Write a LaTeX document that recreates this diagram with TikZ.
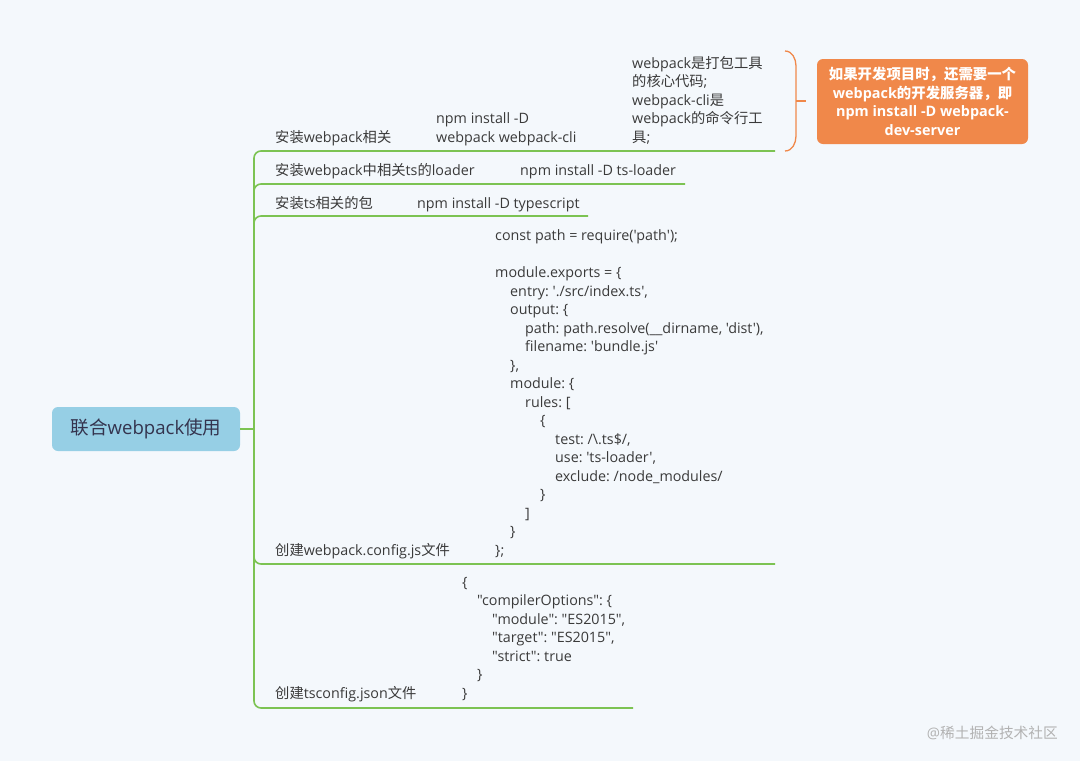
\documentclass[tikz,border=0pt]{standalone}
\usepackage{fontspec}
\setmainfont[Ligatures=TeXOff]{Open Sans}
\newfontfamily\cjk{Noto Sans CJK SC}
\newcommand{\zh}[1]{{\cjk #1}}
\usetikzlibrary{positioning}
\frenchspacing

\definecolor{bgcol}{HTML}{F4F8FC}
\definecolor{linecol}{HTML}{7CC352}
\definecolor{rootcol}{HTML}{96CFE5}
\definecolor{notecol}{HTML}{F0884A}
\definecolor{txtcol}{HTML}{3A3A3A}

\begin{document}
\begin{tikzpicture}[x=1pt,y=-1pt,
	every node/.style={font=\fontsize{14.3}{18.5}\selectfont, text=txtcol, inner sep=0pt},
	topic/.style={anchor=base west},
	code/.style={anchor=base west, align=left},
	branch/.style={draw=linecol, line width=1.6pt, rounded corners=7pt}]
	\fill[bgcol] (0,0) rectangle (1080,761);
	\useasboundingbox (0,0) rectangle (1080,761);
	% root
	\node[fill=rootcol, rounded corners=6pt, minimum width=188pt, minimum height=44pt,
		font=\fontsize{18.6}{22}\selectfont, text=txtcol!90!blue] (root) at (146,429) {\zh{联合}webpack\zh{使用}};
	\coordinate (trunk) at (254,429);
	\draw[branch] (root.east) -- (trunk);
	% branch ends
	\coordinate (e1) at (775,151);
	\coordinate (e2) at (685,184);
	\coordinate (e3) at (588,216);
	\coordinate (e4) at (775,564);
	\coordinate (e5) at (633,708);
	\foreach \e in {e1,e2,e3,e4,e5}
		\draw[branch] (trunk) |- (\e);
	% branch 1
	\node[topic] (t1) at (275,142) {\zh{安装}webpack\zh{相关}};
	\node[code] (c1) at (436,142) {npm install -D\\webpack webpack-cli};
	\node[code] (d1) at (632,142) {webpack\zh{是打包工具}\\\zh{的核心代码};\\webpack-cli\zh{是}\\webpack\zh{的命令行工}\\\zh{具};};
	\draw[notecol, line width=1.3pt] (785,51) to[out=0,in=90] (796,66) -- (796,136)
		to[out=-90,in=0] (785,151);
	\coordinate (tip) at (796,101);
	\node[fill=notecol, rounded corners=6pt, minimum width=211pt, minimum height=85pt,
		align=center, text=white, font=\fontsize{14.4}{18.5}\selectfont\bfseries] (note) at (922.5,101.5)
		{\zh{如果开发项目时，还需要一个}\\webpack\zh{的开发服务器，即}\\npm install -D webpack-\\dev-server};
	\draw[notecol, line width=1.3pt] (tip) -- ++(10,0);
	% branch 2
	\node[topic] (t2) at (275,175) {\zh{安装}webpack\zh{中相关}ts\zh{的}loader};
	\node[topic] (c2) at (520,175) {npm install -D ts-loader};
	% branch 3
	\node[topic] (t3) at (275,208) {\zh{安装}ts\zh{相关的包}};
	\node[topic] (c3) at (417,208) {npm install -D typescript};
	% branch 4
	\node[topic] (t4) at (275,555) {\zh{创建}webpack.config.js\zh{文件}};
	\node[code] (c4) at (495,555) {const path = require('path');\\[18.5pt]
		module.exports = \{\\
		\hspace*{15pt}entry: './src/index.ts',\\
		\hspace*{15pt}output: \{\\
		\hspace*{30pt}path: path.resolve(\_\_dirname, 'dist'),\\
		\hspace*{30pt}filename: 'bundle.js'\\
		\hspace*{15pt}\},\\
		\hspace*{15pt}module: \{\\
		\hspace*{30pt}rules: [\\
		\hspace*{45pt}\{\\
		\hspace*{60pt}test: /\textbackslash.ts\$/,\\
		\hspace*{60pt}use: 'ts-loader',\\
		\hspace*{60pt}exclude: /node\_modules/\\
		\hspace*{45pt}\}\\
		\hspace*{30pt}]\\
		\hspace*{15pt}\}\\
		\};};
	% branch 5
	\node[topic] (t5) at (275,698) {\zh{创建}tsconfig.json\zh{文件}};
	\node[code] (c5) at (462,698) {\{\\
		\hspace*{15pt}"compilerOptions": \{\\
		\hspace*{30pt}"module": "ES2015",\\
		\hspace*{30pt}"target": "ES2015",\\
		\hspace*{30pt}"strict": true\\
		\hspace*{15pt}\}\\
		\}};
	% watermark
	\node[anchor=base east, text=black!30, font=\fontsize{14.7}{16}\selectfont] (mark) at (1058,738) {@\zh{稀土掘金技术社区}};
\end{tikzpicture}
\end{document}
